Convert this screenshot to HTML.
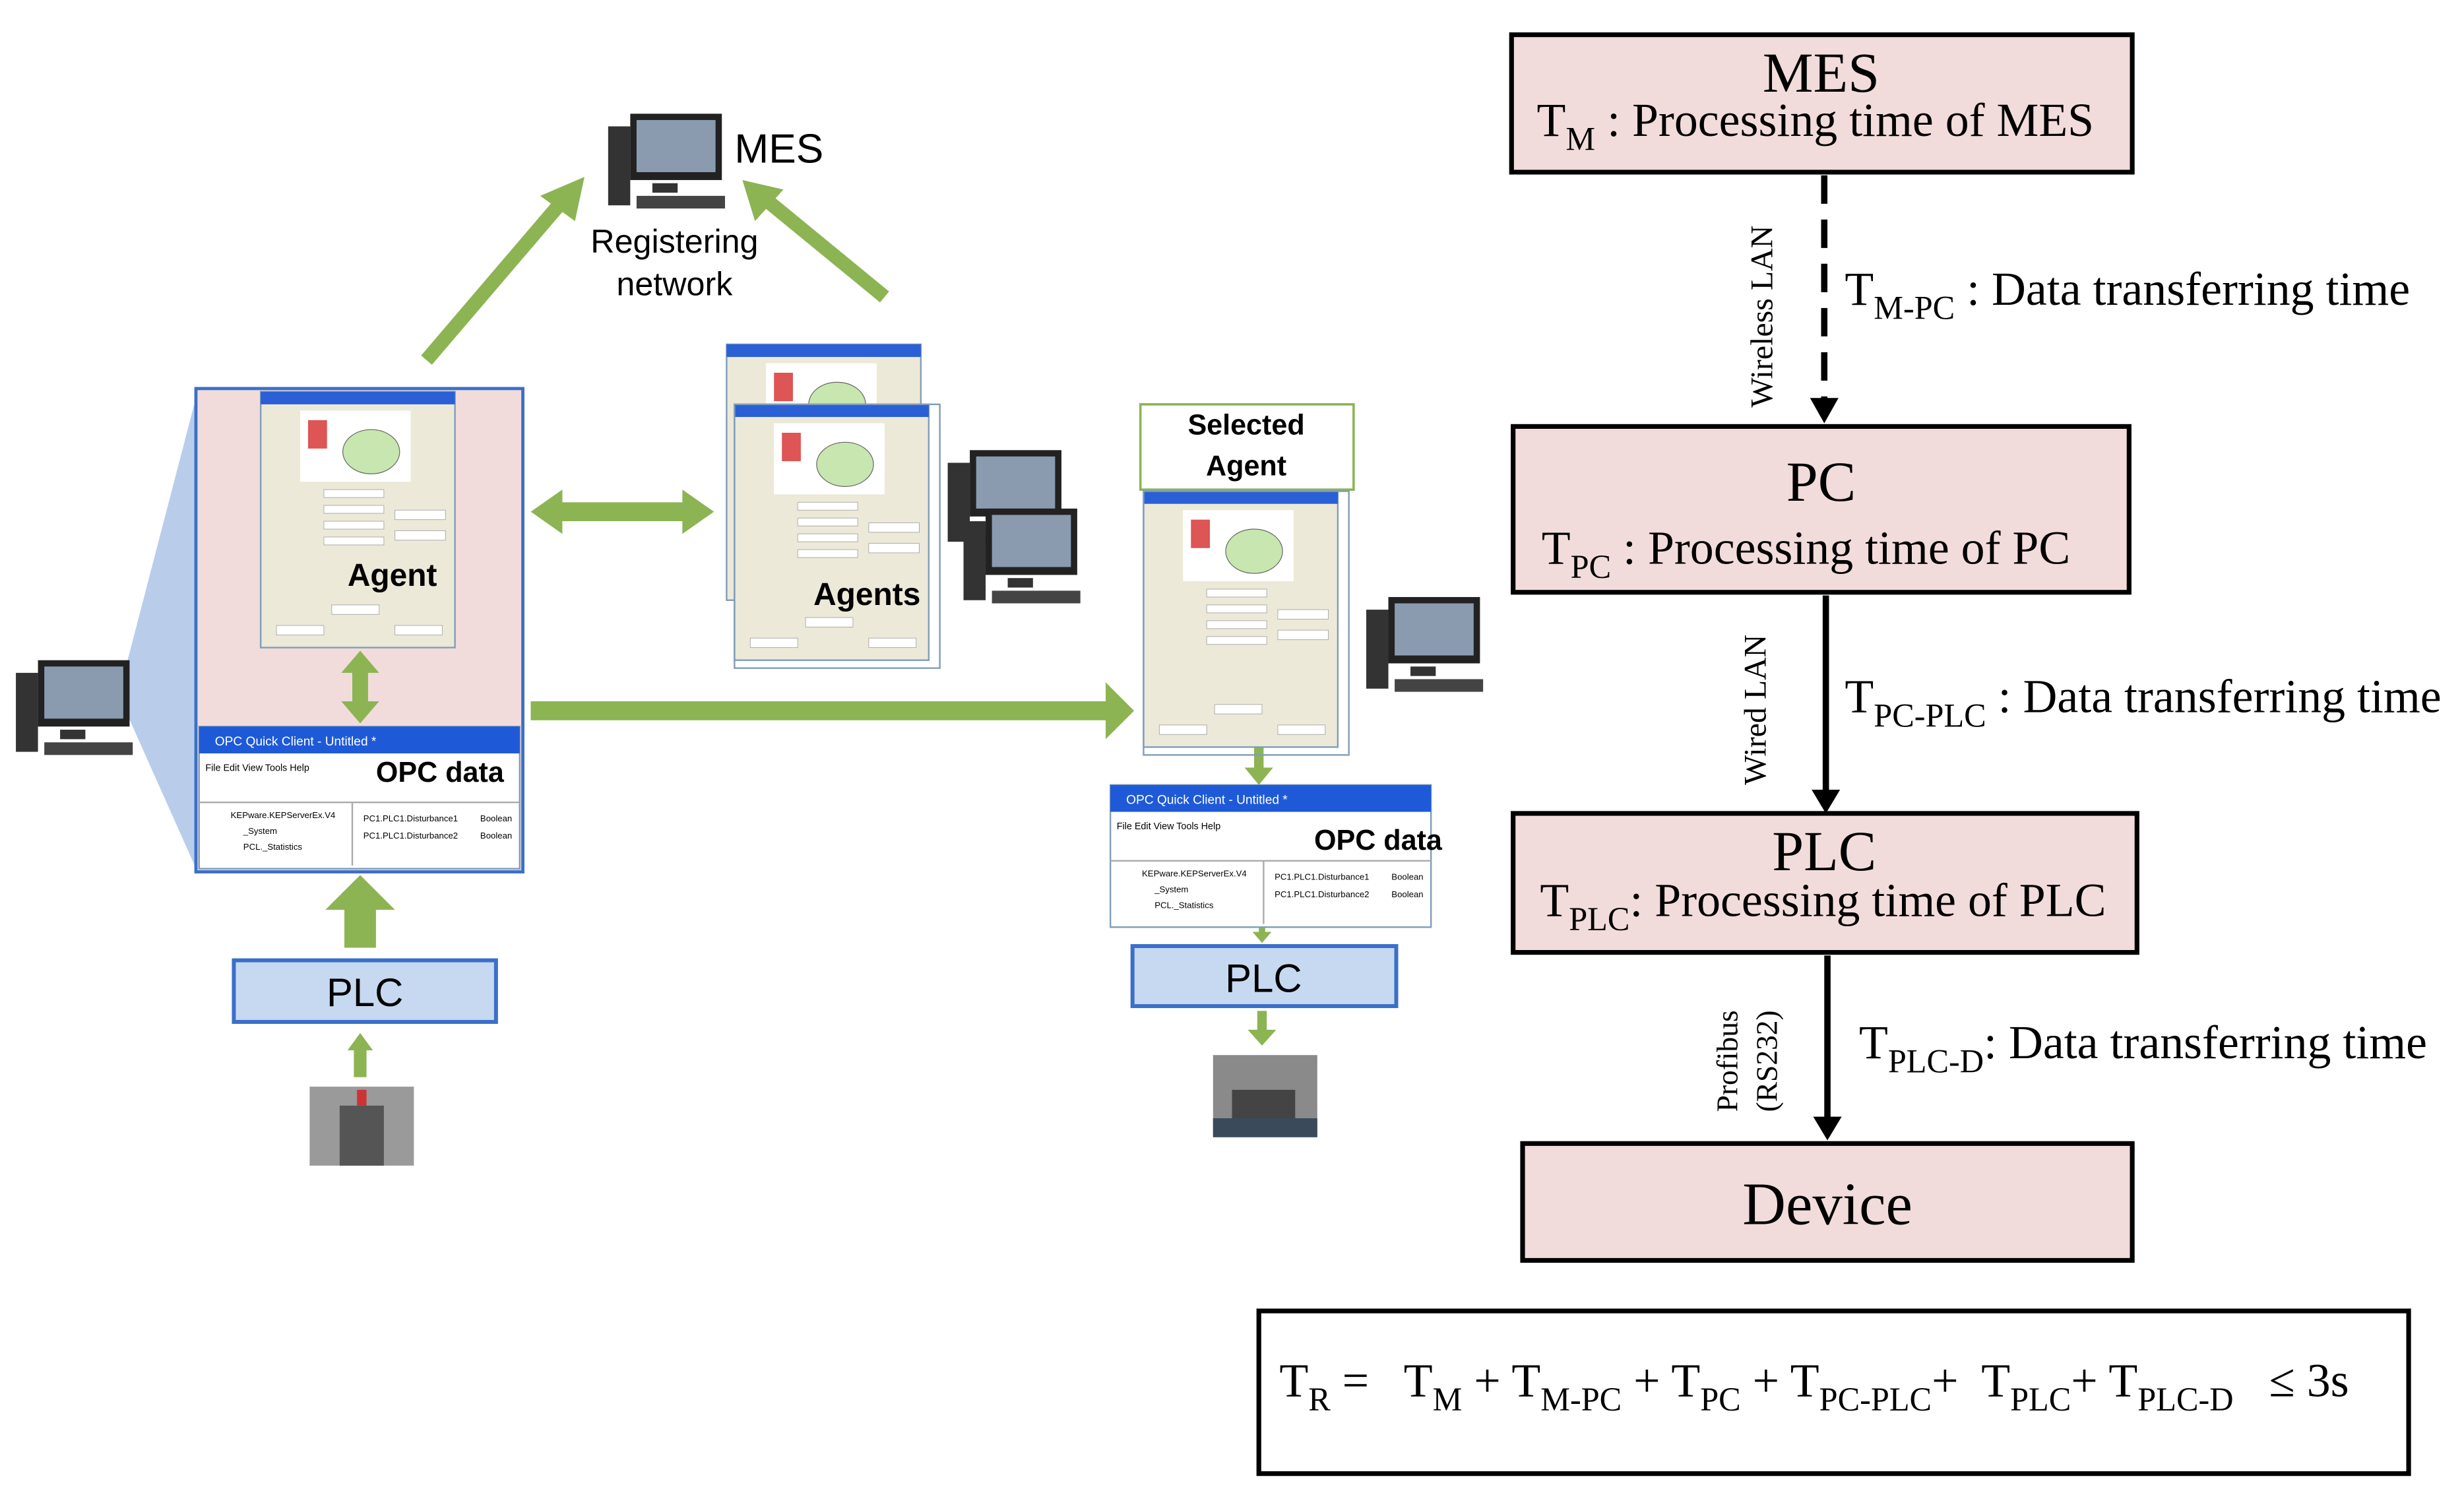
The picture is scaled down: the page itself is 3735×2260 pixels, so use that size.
<!DOCTYPE html>
<html><head><meta charset="utf-8"><style>
html,body{margin:0;padding:0;background:#fff}
svg{display:block}
</style></head><body>
<svg width="3735" height="2260" viewBox="0 0 1560 944" xmlns="http://www.w3.org/2000/svg">
<defs>
<g id="pcicon">
<rect x="0" y="8" width="14" height="50" fill="#333"/>
<rect x="14" y="0" width="58" height="42" fill="#222"/>
<rect x="18" y="4" width="50" height="33" fill="#8a9bb0"/>
<rect x="28" y="44" width="16" height="6" fill="#333"/>
<rect x="18" y="52" width="56" height="8" fill="#444"/>
</g>
<g id="win">
<rect x="0" y="0" width="123" height="162" fill="#ece9d8" stroke="#7f9db9"/>
<rect x="0" y="0" width="123" height="8" fill="#2a5fd6"/>
<rect x="25" y="12" width="70" height="45" fill="#fff"/>
<ellipse cx="70" cy="38" rx="18" ry="14" fill="#c8e6b0" stroke="#666" stroke-width=".5"/>
<rect x="30" y="18" width="12" height="18" fill="#d55"/>
<g fill="#fff" stroke="#aaa" stroke-width=".4">
<rect x="40" y="62" width="38" height="5"/><rect x="40" y="72" width="38" height="5"/><rect x="40" y="82" width="38" height="5"/><rect x="40" y="92" width="38" height="5"/>
<rect x="85" y="75" width="32" height="6"/><rect x="85" y="88" width="32" height="6"/>
<rect x="10" y="148" width="30" height="6"/><rect x="85" y="148" width="30" height="6"/><rect x="45" y="135" width="30" height="6"/>
</g>
</g>
<g id="opc">
<rect x="0" y="0" width="203" height="90" fill="#fff" stroke="#7f9db9"/>
<rect x="0" y="0" width="203" height="17" fill="#1e5ad8"/>
<text x="10" y="12" font-size="8" fill="#fff" font-family="Liberation Sans">OPC Quick Client - Untitled *</text>
<text x="4" y="28" font-size="6" font-family="Liberation Sans">File  Edit  View  Tools  Help</text>
<line x1="0" y1="48" x2="203" y2="48" stroke="#aaa"/>
<line x1="97" y1="48" x2="97" y2="88" stroke="#aaa"/>
<text x="20" y="58" font-size="5.5" font-family="Liberation Sans">KEPware.KEPServerEx.V4</text>
<text x="28" y="68" font-size="5.5" font-family="Liberation Sans">_System</text>
<text x="28" y="78" font-size="5.5" font-family="Liberation Sans">PCL._Statistics</text>
<text x="104" y="60" font-size="5.5" font-family="Liberation Sans">PC1.PLC1.Disturbance1</text>
<text x="104" y="71" font-size="5.5" font-family="Liberation Sans">PC1.PLC1.Disturbance2</text>
<text x="178" y="60" font-size="5.5" font-family="Liberation Sans">Boolean</text>
<text x="178" y="71" font-size="5.5" font-family="Liberation Sans">Boolean</text>
</g>
</defs>

<polygon points="75,440 125,248 125,552" fill="#b9cdeb"/>
<use href="#pcicon" x="10" y="418"/>
<rect x="124" y="246" width="207" height="306" fill="#f2dcdb" stroke="#3b6fc9" stroke-width="2"/>
<use href="#win" x="165" y="248"/>
<text x="220" y="371" font-size="20" font-weight="bold" font-family="Liberation Sans">Agent</text>
<use href="#opc" x="126" y="460"/>
<text x="238" y="495" font-size="18" font-weight="bold" font-family="Liberation Sans">OPC data</text>

<g fill="#8cb453" stroke="none">
<polygon points="228,412 240,426 233,426 233,444 240,444 228,458 216,444 223,444 223,426 216,426"/>
<polygon points="228,554 250,576 238,576 238,600 218,600 218,576 206,576"/>
<polygon points="228,654 236,665 232,665 232,682 224,682 224,665 220,665"/>
<polygon points="336,324 356,310 356,318 432,318 432,310 452,324 432,338 432,330 356,330 356,338"/>
<polygon points="336,444 700,444 700,432 718,450 700,468 700,456 336,456"/>
<polygon points="794,462 800,462 800,486 806,486 797,497 788,486 794,486"/>
<polygon points="797,580 801,580 801,590 805,590 799,597 793,590 797,590"/>
<polygon points="796,640 802,640 802,652 808,652 799,662 790,652 796,652"/>
</g>
<g stroke="#8cb453" stroke-width="9" fill="none">
<line x1="270" y1="228" x2="358" y2="125"/>
<line x1="560" y1="188" x2="482" y2="124"/>
</g>
<polygon points="370,112 364,140 342,124" fill="#8cb453"/>
<polygon points="470,114 496,120 478,140" fill="#8cb453"/>

<use href="#pcicon" x="385" y="72"/>
<text x="465" y="103" font-size="26" font-family="Liberation Sans">MES</text>
<text x="427" y="160" font-size="21" text-anchor="middle" font-family="Liberation Sans">Registering</text>
<text x="427" y="187" font-size="21" text-anchor="middle" font-family="Liberation Sans">network</text>

<use href="#win" x="460" y="218"/>
<use href="#win" x="465" y="256"/>
<rect x="465" y="256" width="130" height="167" fill="none" stroke="#7f9db9"/>
<text x="515" y="383" font-size="20" font-weight="bold" font-family="Liberation Sans">Agents</text>
<use href="#pcicon" x="600" y="285"/>
<use href="#pcicon" x="610" y="322"/>

<rect x="722" y="256" width="135" height="54" fill="#fff" stroke="#8cb453" stroke-width="1.5"/>
<text x="789" y="275" font-size="18" font-weight="bold" text-anchor="middle" font-family="Liberation Sans">Selected</text>
<text x="789" y="301" font-size="18" font-weight="bold" text-anchor="middle" font-family="Liberation Sans">Agent</text>
<use href="#win" x="724" y="311"/>
<rect x="724" y="311" width="130" height="167" fill="none" stroke="#7f9db9"/>
<use href="#pcicon" x="865" y="378"/>
<use href="#opc" x="703" y="497"/>
<text x="832" y="538" font-size="18" font-weight="bold" font-family="Liberation Sans">OPC data</text>

<rect x="148" y="608" width="166" height="39" fill="#c6d9f1" stroke="#3b6fc9" stroke-width="2.5"/>
<text x="231" y="637" font-size="25" text-anchor="middle" font-family="Liberation Sans">PLC</text>
<rect x="717" y="599" width="167" height="38" fill="#c6d9f1" stroke="#3b6fc9" stroke-width="2.5"/>
<text x="800" y="628" font-size="25" text-anchor="middle" font-family="Liberation Sans">PLC</text>

<rect x="196" y="688" width="66" height="50" fill="#9a9a9a"/>
<rect x="215" y="700" width="28" height="38" fill="#555"/>
<rect x="226" y="690" width="6" height="10" fill="#c33"/>
<rect x="768" y="668" width="66" height="52" fill="#8a8a8a"/>
<rect x="780" y="690" width="40" height="22" fill="#444"/>
<rect x="768" y="708" width="66" height="12" fill="#3a4a5a"/>

<g font-family="Liberation Serif" fill="#000">
<rect x="957" y="22" width="393" height="87" fill="#f2dcdb" stroke="#000" stroke-width="3"/>
<text x="1153" y="58" font-size="36" text-anchor="middle">MES</text>
<text x="973" y="86" font-size="30">T<tspan font-size="21" dy="9">M</tspan><tspan dy="-9"> : Processing time of MES</tspan></text>

<line x1="1155" y1="111" x2="1155" y2="258" stroke="#000" stroke-width="4" stroke-dasharray="18,10"/>
<path d="M1146,252 L1155,268 L1164,252 Z"/>
<text transform="translate(1122,258) rotate(-90)" font-size="20">Wireless LAN</text>
<text x="1168" y="193" font-size="30">T<tspan font-size="21" dy="9">M-PC</tspan><tspan dy="-9"> : Data transferring time</tspan></text>

<rect x="958" y="270" width="390" height="105" fill="#f2dcdb" stroke="#000" stroke-width="3"/>
<text x="1153" y="317" font-size="36" text-anchor="middle">PC</text>
<text x="976" y="357" font-size="30">T<tspan font-size="21" dy="9">PC</tspan><tspan dy="-9"> :   Processing time of PC</tspan></text>

<line x1="1156" y1="377" x2="1156" y2="505" stroke="#000" stroke-width="4"/>
<path d="M1147,500 L1156,515 L1165,500 Z"/>
<text transform="translate(1118,497) rotate(-90)" font-size="20">Wired LAN</text>
<text x="1168" y="451" font-size="30">T<tspan font-size="21" dy="9">PC-PLC</tspan><tspan dy="-9"> : Data transferring time</tspan></text>

<rect x="958" y="515" width="395" height="88" fill="#f2dcdb" stroke="#000" stroke-width="3"/>
<text x="1155" y="551" font-size="36" text-anchor="middle">PLC</text>
<text x="975" y="580" font-size="30">T<tspan font-size="21" dy="9">PLC</tspan><tspan dy="-9">: Processing time of PLC</tspan></text>

<line x1="1157" y1="605" x2="1157" y2="712" stroke="#000" stroke-width="4"/>
<path d="M1148,707 L1157,722 L1166,707 Z"/>
<text transform="translate(1100,704) rotate(-90)" font-size="19">Profibus</text>
<text transform="translate(1125,704) rotate(-90)" font-size="19">(RS232)</text>
<text x="1177" y="670" font-size="30">T<tspan font-size="21" dy="9">PLC-D</tspan><tspan dy="-9">: Data transferring time</tspan></text>

<rect x="964" y="724" width="386" height="74" fill="#f2dcdb" stroke="#000" stroke-width="3"/>
<text x="1157" y="775" font-size="38" text-anchor="middle">Device</text>

<rect x="797" y="830" width="728" height="103" fill="#fff" stroke="#000" stroke-width="3"/>
<text x="810" y="884" font-size="30" xml:space="preserve">T<tspan font-size="21" dy="9">R</tspan><tspan dy="-9"> =   T</tspan><tspan font-size="21" dy="9">M</tspan><tspan dy="-9"> + T</tspan><tspan font-size="21" dy="9">M-PC</tspan><tspan dy="-9"> + T</tspan><tspan font-size="21" dy="9">PC</tspan><tspan dy="-9"> + T</tspan><tspan font-size="21" dy="9">PC-PLC</tspan><tspan dy="-9">+  T</tspan><tspan font-size="21" dy="9">PLC</tspan><tspan dy="-9">+ T</tspan><tspan font-size="21" dy="9">PLC-D</tspan><tspan dy="-9">   ≤ 3s</tspan></text>
</g>
</svg>
</body></html>
